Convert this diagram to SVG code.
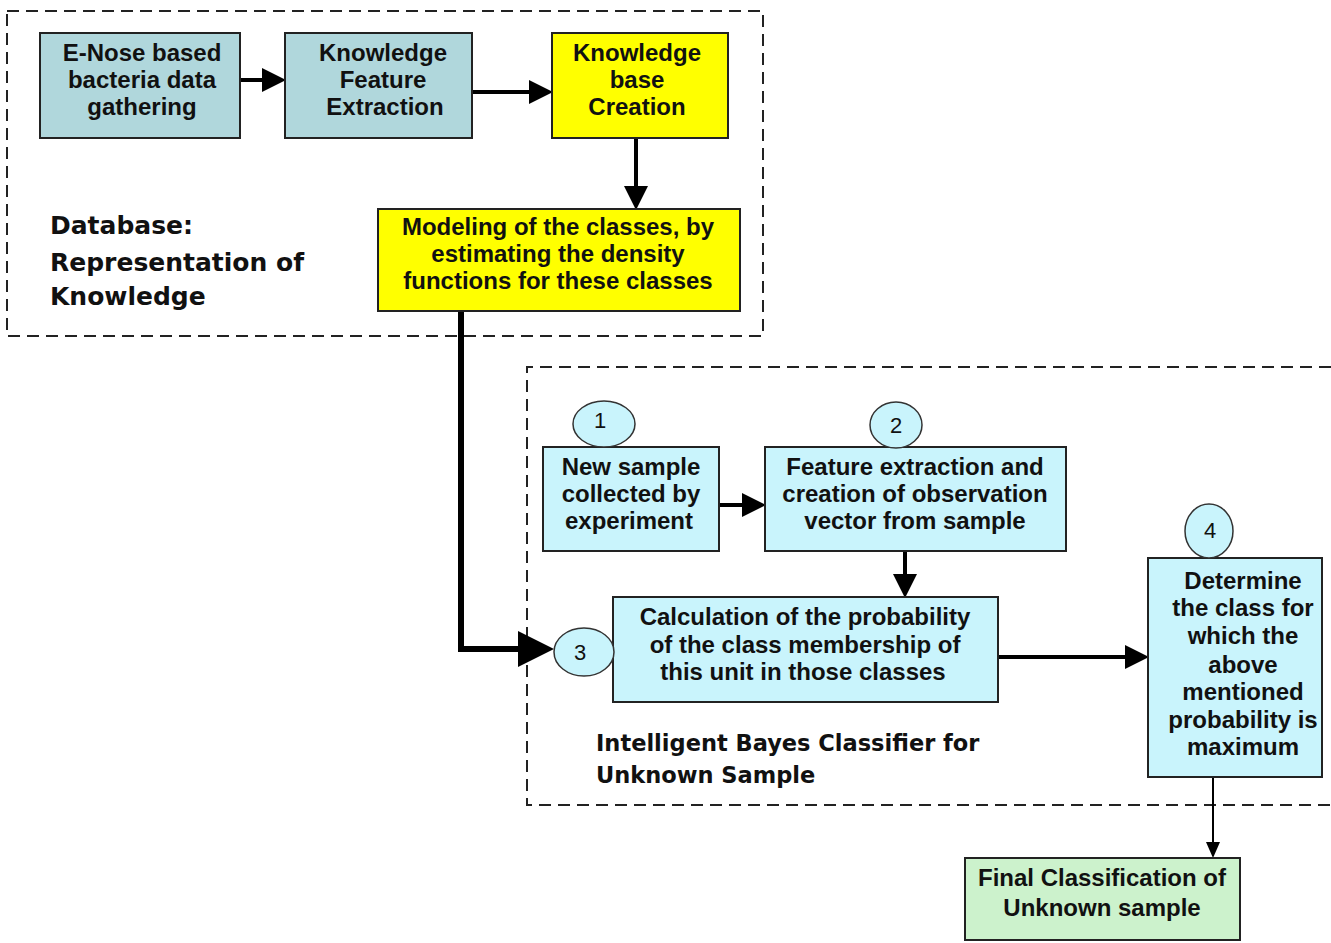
<svg xmlns="http://www.w3.org/2000/svg" width="1331" height="943" viewBox="0 0 1331 943">
<style>
.dash{fill:none;stroke:#222;stroke-width:2;stroke-dasharray:12,7}
.box{stroke:#222;stroke-width:2}
.grey{fill:#b0d7dc}
.yel{fill:#ffff00}
.cyan{fill:#c9f4fc}
.green{fill:#ccf2cc}
.t{font-family:"Liberation Sans",Arial,sans-serif;font-weight:bold;font-size:24px;fill:#111;text-anchor:middle}
.lab{font-family:"DejaVu Sans",Verdana,sans-serif;font-weight:bold;font-size:25px;fill:#111}
.lab2{font-family:"DejaVu Sans",Verdana,sans-serif;font-weight:bold;font-size:22.5px;fill:#111}
.num{font-family:"Liberation Sans",Arial,sans-serif;font-size:22px;fill:#111;text-anchor:middle}
.ell{fill:#c9f4fc;stroke:#333;stroke-width:1.5}
.thick{fill:none;stroke:#000;stroke-width:6}
.med{fill:none;stroke:#000;stroke-width:4}
.thin{fill:none;stroke:#000;stroke-width:2}
</style>
<defs>
<marker id="ah" markerWidth="6" markerHeight="6" refX="5" refY="3" orient="auto" markerUnits="strokeWidth">
<path d="M0,0 L6,3 L0,6 z" fill="#000"/>
</marker>
<marker id="ahs" markerWidth="8" markerHeight="8" refX="7" refY="4" orient="auto" markerUnits="strokeWidth">
<path d="M0,0.5 L8,4 L0,7.5 z" fill="#000"/>
</marker>
</defs>
<rect x="0" y="0" width="1331" height="943" fill="#fff"/>
<g id="group-database">
<rect class="dash" x="7" y="11" width="756" height="325"/>
<text class="lab" x="50" y="234">Database:</text>
<text class="lab" x="50" y="271">Representation of</text>
<text class="lab" x="50" y="305">Knowledge</text>
</g>
<g id="group-classifier">
<path class="dash" d="M1331,367 L527,367 L527,805 L1331,805"/>
<text class="lab2" x="596" y="751">Intelligent Bayes Classifier for</text>
<text class="lab2" x="596" y="783">Unknown Sample</text>
</g>
<g id="connectors">
<line class="med" x1="240" y1="80" x2="282" y2="80" marker-end="url(#ah)"/>
<line class="med" x1="472" y1="92" x2="549" y2="92" marker-end="url(#ah)"/>
<line class="med" x1="636" y1="138" x2="636" y2="206" marker-end="url(#ah)"/>
<polyline class="thick" points="461,311 461,649 548,649" marker-end="url(#ah)"/>
<line class="med" x1="719" y1="505" x2="762" y2="505" marker-end="url(#ah)"/>
<line class="med" x1="905" y1="551" x2="905" y2="594" marker-end="url(#ah)"/>
<line class="med" x1="998" y1="657" x2="1145" y2="657" marker-end="url(#ah)"/>
<line class="thin" x1="1213" y1="777" x2="1213" y2="856" marker-end="url(#ahs)"/>
</g>
<g id="node-enose">
<rect class="box grey" x="40" y="33" width="200" height="105"/>
<text class="t" x="142" y="61">E-Nose based</text>
<text class="t" x="142" y="88">bacteria data</text>
<text class="t" x="142" y="115">gathering</text>
</g>
<g id="node-kfe">
<rect class="box grey" x="285" y="33" width="187" height="105"/>
<text class="t" x="383" y="61">Knowledge</text>
<text class="t" x="383" y="88">Feature</text>
<text class="t" x="385" y="115">Extraction</text>
</g>
<g id="node-kbc">
<rect class="box yel" x="552" y="33" width="176" height="105"/>
<text class="t" x="637" y="61">Knowledge</text>
<text class="t" x="637" y="88">base</text>
<text class="t" x="637" y="115">Creation</text>
</g>
<g id="node-model">
<rect class="box yel" x="378" y="209" width="362" height="102"/>
<text class="t" x="558" y="235">Modeling of the classes, by</text>
<text class="t" x="558" y="262">estimating the density</text>
<text class="t" x="558" y="289">functions for these classes</text>
</g>
<g id="node-new">
<rect class="box cyan" x="543" y="447" width="176" height="104"/>
<text class="t" x="631" y="475">New sample</text>
<text class="t" x="631" y="502">collected by</text>
<text class="t" x="629" y="529">experiment</text>
</g>
<g id="node-feature">
<rect class="box cyan" x="765" y="447" width="301" height="104"/>
<text class="t" x="915" y="475">Feature extraction and</text>
<text class="t" x="915" y="502">creation of observation</text>
<text class="t" x="915" y="529">vector from sample</text>
</g>
<g id="node-calc">
<rect class="box cyan" x="613" y="597" width="385" height="105"/>
<text class="t" x="805" y="625">Calculation of the probability</text>
<text class="t" x="805" y="653">of the class membership of</text>
<text class="t" x="803" y="680">this unit in those classes</text>
</g>
<g id="node-determine">
<rect class="box cyan" x="1148" y="558" width="174" height="219"/>
<text class="t" x="1243" y="589">Determine</text>
<text class="t" x="1243" y="616">the class for</text>
<text class="t" x="1243" y="644">which the</text>
<text class="t" x="1243" y="673">above</text>
<text class="t" x="1243" y="700">mentioned</text>
<text class="t" x="1243" y="728">probability is</text>
<text class="t" x="1243" y="755">maximum</text>
</g>
<g id="node-final">
<rect class="box green" x="965" y="858" width="275" height="82"/>
<text class="t" x="1102" y="886">Final Classification of</text>
<text class="t" x="1102" y="916">Unknown sample</text>
</g>
<g id="node-c1">
<ellipse class="ell" cx="604" cy="424" rx="31" ry="23"/>
<text class="num" x="600" y="428">1</text>
</g>
<g id="node-c2">
<ellipse class="ell" cx="896" cy="425" rx="26" ry="23"/>
<text class="num" x="896" y="433">2</text>
</g>
<g id="node-c3">
<ellipse class="ell" cx="584" cy="652" rx="30" ry="24"/>
<text class="num" x="580" y="660">3</text>
</g>
<g id="node-c4">
<ellipse class="ell" cx="1209" cy="531" rx="24" ry="27"/>
<text class="num" x="1210" y="538">4</text>
</g>
</svg>
